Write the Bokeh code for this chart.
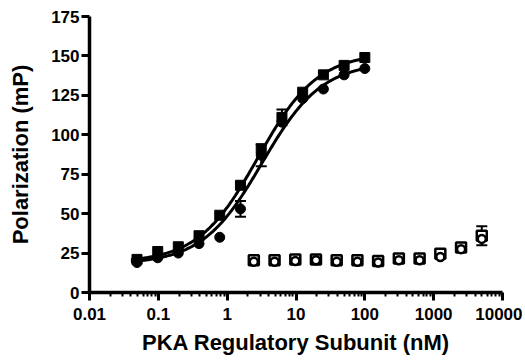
import numpy as np
from bokeh.plotting import figure
from bokeh.models import ColumnDataSource, FixedTicker, Whisker, TeeHead
from bokeh.embed import file_html
from bokeh.resources import INLINE

# ---- data ----
x_bound = [0.049, 0.098, 0.195, 0.39, 0.78, 1.56, 3.125, 6.25, 12.5, 25, 50, 100]
sq_bound = [21, 26, 29, 36, 49, 68, 91, 111, 127, 138, 144, 149]
ci_bound = [19, 22, 25, 31, 35, 53, 87, 108, 123, 129, 138, 142]

x_free = [2.44, 4.88, 9.77, 19.5, 39, 78, 156, 312, 625, 1250, 2500, 5000]
sq_free = [20.5, 20.5, 21, 21, 20.5, 20.5, 20, 21.5, 21.5, 24.5, 28.5, 36]
ci_free = [19.5, 19.5, 20, 20.5, 19.5, 19.5, 19, 20.5, 20.5, 22.5, 27.5, 34]

# error bars visible in the picture: (x, y, err)
err_x = [1.56, 6.25, 3.125, 5000]
err_y = [53, 111, 87, 36]
err_e = [5, 5, 7, 6]

# sigmoidal fit parameters (bottom, top, EC50, hill)
fit_sq = [19, 152, 2.8, 1.0]
fit_ci = [18, 146, 3.2, 1.0]

x_ticks = [0.01, 0.1, 1, 10, 100, 1000, 10000]
x_tick_labels = ["0.01", "0.1", "1", "10", "100", "1000", "10000"]
y_ticks = [0, 25, 50, 75, 100, 125, 150, 175]

FONT = "Liberation Sans"

p = figure(x_axis_type="log", x_range=(0.01, 10000), y_range=(0, 175),
           width=522, height=358,
           min_border_left=89, min_border_top=16, min_border_right=20,
           min_border_bottom=66,
           output_backend="svg", toolbar_location=None)
p.xgrid.visible = False
p.ygrid.visible = False
p.outline_line_color = None
p.background_fill_color = "white"

# fit curves
xs = np.logspace(np.log10(0.04), np.log10(100), 200)
def logistic(x, prm):
    b, t, ec, h = prm
    return b + (t - b) / (1 + (ec / x) ** h)

p.line(xs, logistic(xs, fit_sq), line_color="black", line_width=3)
p.line(xs, logistic(xs, fit_ci), line_color="black", line_width=3)

# error bars
esrc = ColumnDataSource(dict(x=err_x, lo=[y - e for y, e in zip(err_y, err_e)],
                             hi=[y + e for y, e in zip(err_y, err_e)]))
p.add_layout(Whisker(source=esrc, base="x", lower="lo", upper="hi", dimension="height",
                     line_color="black", line_width=2,
                     lower_head=TeeHead(size=11, line_width=2, line_color="black"),
                     upper_head=TeeHead(size=11, line_width=2, line_color="black")))

# closed markers
p.scatter(x_bound, sq_bound, marker="square", size=10, fill_color="black", line_color="black")
p.scatter(x_bound, ci_bound, marker="circle", size=10, fill_color="black", line_color="black")

# open markers
p.scatter(x_free, sq_free, marker="square", size=10, fill_color="white",
          line_color="black", line_width=2.5)
p.scatter(x_free, ci_free, marker="circle", size=8, fill_color="white",
          line_color="black", line_width=2.5)

# axes styling
for ax in (p.xaxis[0], p.yaxis[0]):
    ax.axis_line_width = 3.5
    ax.axis_line_color = "black"
    ax.major_tick_line_width = 3
    ax.major_tick_out = 8
    ax.major_tick_in = 0
    ax.major_label_text_font = FONT
    ax.major_label_text_font_style = "bold"
    ax.major_label_text_font_size = "17px"
    ax.major_label_text_color = "black"
    ax.major_label_text_line_height = 1.0
    ax.axis_label_text_font = FONT
    ax.axis_label_text_font_style = "bold"
    ax.axis_label_text_font_size = "22px"
    ax.axis_label_text_color = "black"
    ax.axis_label_text_line_height = 1.0

minor = [m * d for d in [0.01, 0.1, 1, 10, 100, 1000] for m in range(2, 10)]
p.xaxis.ticker = FixedTicker(ticks=x_ticks, minor_ticks=minor)
p.xaxis.major_label_overrides = {t: l for t, l in zip(x_ticks, x_tick_labels)}
p.xaxis.minor_tick_line_width = 2
p.xaxis.minor_tick_out = 4
p.xaxis.minor_tick_in = 0
p.xaxis.major_label_standoff = 7
p.xaxis.axis_label = "PKA Regulatory Subunit (nM)"
p.xaxis.axis_label_standoff = 7

p.yaxis.ticker = FixedTicker(ticks=y_ticks)
p.yaxis.minor_tick_line_color = None
p.yaxis.major_label_standoff = 2
p.yaxis.axis_label = "Polarization (mP)"
p.yaxis.axis_label_standoff = 15

open("out.html", "w").write(file_html(p, INLINE))
